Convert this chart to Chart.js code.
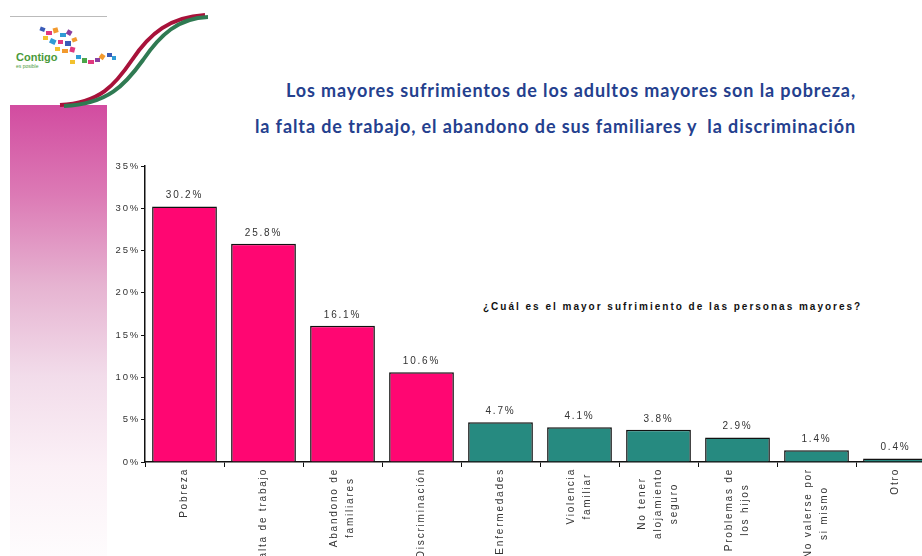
<!DOCTYPE html>
<html><head><meta charset="utf-8">
<script src="https://cdn.jsdelivr.net/npm/chart.js@4/dist/chart.umd.min.js"></script>
<style>
html,body{margin:0;padding:0;width:922px;height:556px;overflow:hidden;background:#fff;position:relative;font-family:'Liberation Sans',Arial,sans-serif}
#wrap{position:absolute;left:0;top:0;width:950px;height:556px}
#side{position:absolute;left:10px;top:105px;width:97px;height:451px;background:linear-gradient(to bottom,#d24ca0 0%,#dc7ab5 20%,#e6b3d1 40%,#f2dcea 60%,#fbf0f6 80%,#fefcfd 100%)}
#topline{position:absolute;left:10px;top:16px;width:97px;height:1px;background:#bbb}
.title{position:absolute;right:66px;font-family:Lato,'Open Sans',sans-serif;font-weight:bold;font-size:18px;letter-spacing:0.9px;line-height:22px;color:#24408e;white-space:pre}
#sub{position:absolute;left:483px;top:300px;font:bold 10px 'Liberation Sans',Arial,sans-serif;line-height:14px;letter-spacing:2px;color:#111;white-space:pre}
svg{position:absolute;left:0;top:0}
</style></head>
<body>
<div id="side"></div>
<div id="topline"></div>
<svg width="230" height="120" viewBox="0 0 230 120">
  <path d="M60,105 C100,103 115,85 132,60 C150,33 170,17 205,15" fill="none" stroke="#a8123a" stroke-width="4"/>
  <path d="M64,106 C108,104 125,85 143,60 C160,35 178,18 208,17" fill="none" stroke="#2f7a52" stroke-width="4"/>
  <g>
    <rect x="40" y="27" width="5" height="4" fill="#3b5cb8" transform="rotate(20 42 29)"/>
    <rect x="46" y="31" width="6" height="4" fill="#e0397f"/>
    <rect x="53" y="28" width="5" height="5" fill="#f29a2e" transform="rotate(-15 55 30)"/>
    <rect x="60" y="33" width="6" height="4" fill="#2f9bd6"/>
    <rect x="67" y="30" width="5" height="5" fill="#8a3fa0" transform="rotate(30 69 32)"/>
    <rect x="43" y="36" width="5" height="4" fill="#f2c12e"/>
    <rect x="50" y="39" width="6" height="5" fill="#2f9bd6" transform="rotate(25 53 41)"/>
    <rect x="58" y="40" width="5" height="4" fill="#e0397f"/>
    <rect x="65" y="41" width="6" height="5" fill="#3b5cb8"/>
    <rect x="72" y="38" width="5" height="4" fill="#f29a2e" transform="rotate(-20 74 40)"/>
    <rect x="55" y="47" width="5" height="4" fill="#f2c12e"/>
    <rect x="62" y="49" width="6" height="4" fill="#f29a2e"/>
    <rect x="70" y="47" width="5" height="5" fill="#e0397f" transform="rotate(15 72 49)"/>
    <rect x="76" y="55" width="5" height="4" fill="#2f9bd6"/>
    <rect x="82" y="58" width="5" height="5" fill="#4aa64a"/>
    <rect x="88" y="60" width="6" height="4" fill="#e0397f"/>
    <rect x="95" y="58" width="5" height="4" fill="#8a3fa0"/>
    <rect x="100" y="54" width="5" height="5" fill="#f29a2e" transform="rotate(35 102 56)"/>
    <rect x="107" y="53" width="5" height="4" fill="#3b5cb8"/>
    <rect x="112" y="56" width="4" height="4" fill="#2f9bd6"/>
    <rect x="70" y="60" width="5" height="4" fill="#f2c12e"/>
  </g>
  <text x="16" y="61" font-family="Liberation Sans, Arial" font-weight="bold" font-size="11" fill="#4a9a3a">Contigo</text>
  <text x="16" y="68" font-family="Liberation Sans, Arial" font-size="5" fill="#4a9a3a">es posible</text>
</svg>
<div class="title" style="top:79px">Los mayores sufrimientos de los adultos mayores son la pobreza,</div>
<div class="title" style="top:115px">la falta de trabajo, el abandono de sus familiares y  la discriminación</div>
<div id="sub">¿Cuál es el mayor sufrimiento de las personas mayores?</div>
<div id="wrap"><canvas id="c" width="950" height="556"></canvas></div>
<script>
const categories = [
  'Pobreza',
  'Falta de trabajo',
  ['Abandono de', 'familiares'],
  'Discriminación',
  'Enfermedades',
  ['Violencia', 'familiar'],
  ['No tener', 'alojamiento', 'seguro'],
  ['Problemas de', 'los hijos'],
  ['No valerse por', 'si mismo'],
  'Otro'
];
const values = [30.2, 25.8, 16.1, 10.6, 4.7, 4.1, 3.8, 2.9, 1.4, 0.4];
const barColors = ['#ff0672','#ff0672','#ff0672','#ff0672','#268a80','#268a80','#268a80','#268a80','#268a80','#268a80'];
const yTickLabels = ['0%','5%','10%','15%','20%','25%','30%','35%'];

const FONT = '"Liberation Sans", Arial, sans-serif';

const spacingPlugin = {
  id: 'spacing',
  beforeDraw(chart) { chart.ctx.letterSpacing = '1.8px'; }
};
const valueLabels = {
  id: 'valueLabels',
  afterDatasetsDraw(chart) {
    const ctx = chart.ctx;
    const meta = chart.getDatasetMeta(0);
    ctx.save();
    ctx.letterSpacing = '1.8px';
    ctx.font = '10px ' + FONT;
    ctx.fillStyle = '#333';
    ctx.textAlign = 'center';
    ctx.textBaseline = 'middle';
    meta.data.forEach((el, i) => {
      ctx.fillText(values[i].toFixed(1) + '%', el.x, el.y - 11);
    });
    ctx.restore();
  }
};
// Rotated category labels, each line centred within its block (like wrapped Excel labels)
const catLabels = {
  id: 'catLabels',
  afterDraw(chart) {
    const ctx = chart.ctx;
    const xs = chart.scales.x;
    const lh = 16;
    ctx.save();
    ctx.letterSpacing = '1.8px';
    ctx.font = '10px ' + FONT;
    ctx.fillStyle = '#333';
    ctx.textAlign = 'center';
    ctx.textBaseline = 'middle';
    categories.forEach((lab, i) => {
      const lines = Array.isArray(lab) ? lab : [lab];
      const px = xs.getPixelForTick(i);
      const maxW = Math.max(...lines.map(l => ctx.measureText(l).width));
      const y0 = xs.top + 6;
      lines.forEach((line, j) => {
        const cx = px + (j - (lines.length - 1) / 2) * lh;
        ctx.save();
        ctx.translate(cx, y0 + maxW / 2);
        ctx.rotate(-Math.PI / 2);
        ctx.fillText(line, 0, 0);
        ctx.restore();
      });
    });
    ctx.restore();
  }
};

new Chart(document.getElementById('c'), {
  type: 'bar',
  data: {
    labels: categories,
    datasets: [{
      data: values,
      backgroundColor: barColors,
      borderColor: '#111',
      borderWidth: 1.5,
      categoryPercentage: 1,
      barPercentage: 0.82
    }]
  },
  options: {
    responsive: false,
    animation: false,
    layout: { padding: { top: 166, right: 15, left: 0, bottom: 0 } },
    plugins: { legend: { display: false }, tooltip: { enabled: false } },
    scales: {
      x: {
        afterFit(s) { s.height = 94; },
        grid: { drawOnChartArea: false, drawTicks: true, tickLength: 5, color: '#111', offset: true },
        border: { display: true, color: '#111', width: 1.5 },
        ticks: { display: false, autoSkip: false }
      },
      y: {
        min: 0, max: 35,
        afterFit(s) { s.width = 145; },
        grid: { drawOnChartArea: false, drawTicks: true, tickLength: 4, color: '#111' },
        border: { display: true, color: '#111', width: 1.5 },
        ticks: {
          stepSize: 5, padding: 1,
          color: '#333', font: { family: FONT, size: 9.5 },
          callback: (v, i) => yTickLabels[i]
        }
      }
    }
  },
  plugins: [spacingPlugin, valueLabels, catLabels]
});
</script>
</body></html>
